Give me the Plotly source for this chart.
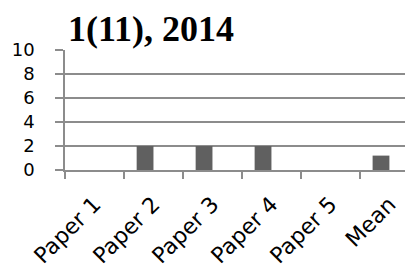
import plotly.graph_objects as go

categories = ["Paper 1", "Paper 2", "Paper 3", "Paper 4", "Paper 5", "Mean"]
series_a = [0, 2, 2, 2, 0, 1.2]
series_b = [None, None, None, None, None, None]
y_ticks = [0, 2, 4, 6, 8, 10]

fig = go.Figure()
fig.add_trace(go.Bar(x=categories, y=series_a, marker=dict(color="#606060", line=dict(width=0)), showlegend=False))
fig.add_trace(go.Bar(x=categories, y=series_b, marker=dict(color="#a0a0a0", line=dict(width=0)), showlegend=False))

# page body has an 8px default margin, so the figure is 8px smaller on each axis
fig.update_layout(
    width=405, height=263,
    margin=dict(l=57, r=0, t=42, b=101, pad=0),
    paper_bgcolor="white", plot_bgcolor="white",
    barmode="group", bargap=0.43, bargroupgap=0,
    title=dict(text="<b>1(11), 2014</b>", x=0, xref="paper", xanchor="left",
               y=1, yref="container", yanchor="top", pad=dict(t=8, l=3),
               font=dict(family="Liberation Serif", size=36, color="black")),
    font=dict(family="DejaVu Sans", color="black"),
)
fig.update_yaxes(range=[0, 10], tickvals=y_ticks, showgrid=True, gridcolor="#8c8c8c", gridwidth=1.5,
                 showline=True, linecolor="#8c8c8c", linewidth=1.5,
                 ticks="outside", ticklen=8, tickcolor="#8c8c8c", tickwidth=1.5,
                 tickfont=dict(size=18, family="DejaVu Sans", color="black"), ticklabelstandoff=17,
                 zeroline=False, fixedrange=True)
fig.update_xaxes(type="category", range=[-0.5, 5.4], tickson="boundaries",
                 showline=True, linecolor="#8c8c8c", linewidth=1.5,
                 ticks="outside", ticklen=7, tickcolor="#8c8c8c", tickwidth=1.5,
                 tickangle=-45, tickfont=dict(size=22, family="DejaVu Sans", color="black"),
                 ticklabelstandoff=11, showgrid=False)

fig.write_html("out.html")
